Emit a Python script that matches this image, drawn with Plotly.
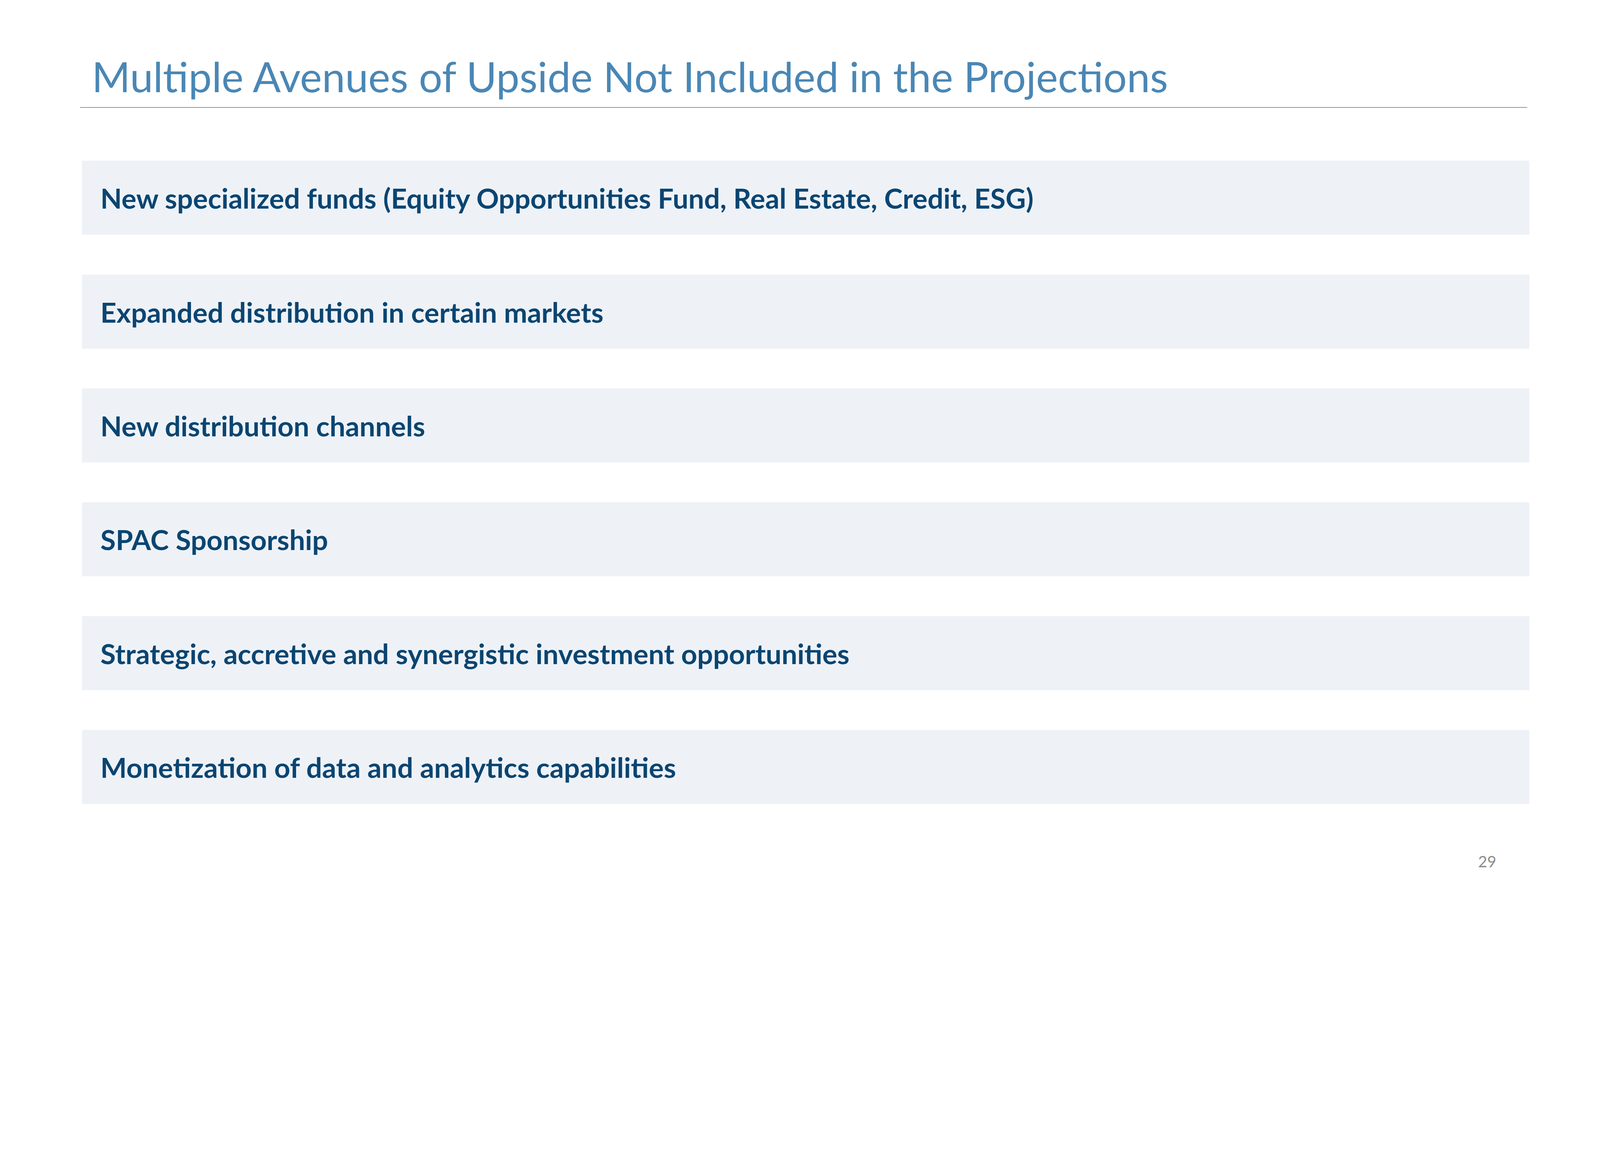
import plotly.graph_objects as go

# reference geometry is measured in screen pixels of a 5334x3000 shot
W, H = 5334, 3000

title = "Multiple Avenues of Upside Not Included in the Projections"
items = [
    "New specialized funds (Equity Opportunities Fund, Real Estate, Credit, ESG)",
    "Expanded distribution in certain markets",
    "New distribution channels",
    "SPAC Sponsorship",
    "Strategic, accretive and synergistic investment opportunities",
    "Monetization of data and analytics capabilities",
]
bar_len = [1, 1, 1, 1, 1, 1]
page_no = "29"

TITLE_BLUE = "#4A87B5"
NAVY = "#0B4571"
BAND = "#EEF2F7"

BAR_L, BAR_R = 273, 5099
ROW0, ROW_PITCH = 659, 379.5   # centre of first band, band spacing

# font sizes below are for a page 4096 css px wide; scaled in js otherwise
BASE_W = 4096


def px(x):
    return x / W


def py(y):
    return 1 - y / H


fig = go.Figure()

fig.add_trace(go.Bar(
    y=items, x=bar_len, orientation="h",
    marker=dict(color=BAND, line=dict(width=0)),
    hoverinfo="skip", showlegend=False,
))

# labels inside the bands
label_x = (332 - BAR_L) / (BAR_R - BAR_L)
for it in items:
    fig.add_annotation(
        x=label_x, y=it, xref="x", yref="y", text="<b>" + it + "</b>",
        showarrow=False, xanchor="left", yanchor="middle",
        font=dict(family="Lato", size=71.5, color=NAVY),
    )

fig.add_annotation(
    x=px(304), y=py(340), xref="paper", yref="paper", text=title,
    showarrow=False, xanchor="left", yanchor="bottom",
    font=dict(family="Lato", size=106.3, color=TITLE_BLUE),
)

fig.add_annotation(
    x=px(4990), y=py(2905), xref="paper", yref="paper", text=page_no,
    showarrow=False, xanchor="right", yanchor="bottom",
    font=dict(family="Lato", size=40, color="#8C8C8C"),
)

fig.add_shape(type="line", xref="paper", yref="paper",
              x0=px(267), x1=px(5091), y0=py(358), y1=py(358),
              line=dict(color="#969696", width=2))

top = ROW0 - ROW_PITCH / 2
bottom = ROW0 + ROW_PITCH * (len(items) - 0.5)

fig.update_layout(
    autosize=True,
    margin=dict(l=0, r=0, t=0, b=0),
    paper_bgcolor="white", plot_bgcolor="white",
    bargap=1 - 247 / ROW_PITCH,
    xaxis=dict(domain=[px(BAR_L), px(BAR_R)], range=[0, 1], visible=False, fixedrange=True),
    yaxis=dict(domain=[py(bottom), py(top)], range=[len(items) - 0.5, -0.5],
               visible=False, fixedrange=True),
)

fit_page = """
var gd = document.getElementById('{plot_id}');
document.documentElement.style.margin = '0';
document.body.style.margin = '0';
Plotly.Plots.resize(gd).then(function () {
  var k = gd._fullLayout.width / %d;
  if (Math.abs(k - 1) < 0.01) return;
  var upd = {};
  gd.layout.annotations.forEach(function (a, i) {
    upd['annotations[' + i + '].font.size'] = a.font.size * k;
  });
  upd['shapes[0].line.width'] = 2 * k;
  return Plotly.relayout(gd, upd);
});
""" % BASE_W

# keep the slide 16:9 whatever the window width
fig.write_html("out.html", config={"responsive": True, "displayModeBar": False},
               default_width="100vw", default_height="%.4fvw" % (100 * H / W),
               post_script=fit_page)
